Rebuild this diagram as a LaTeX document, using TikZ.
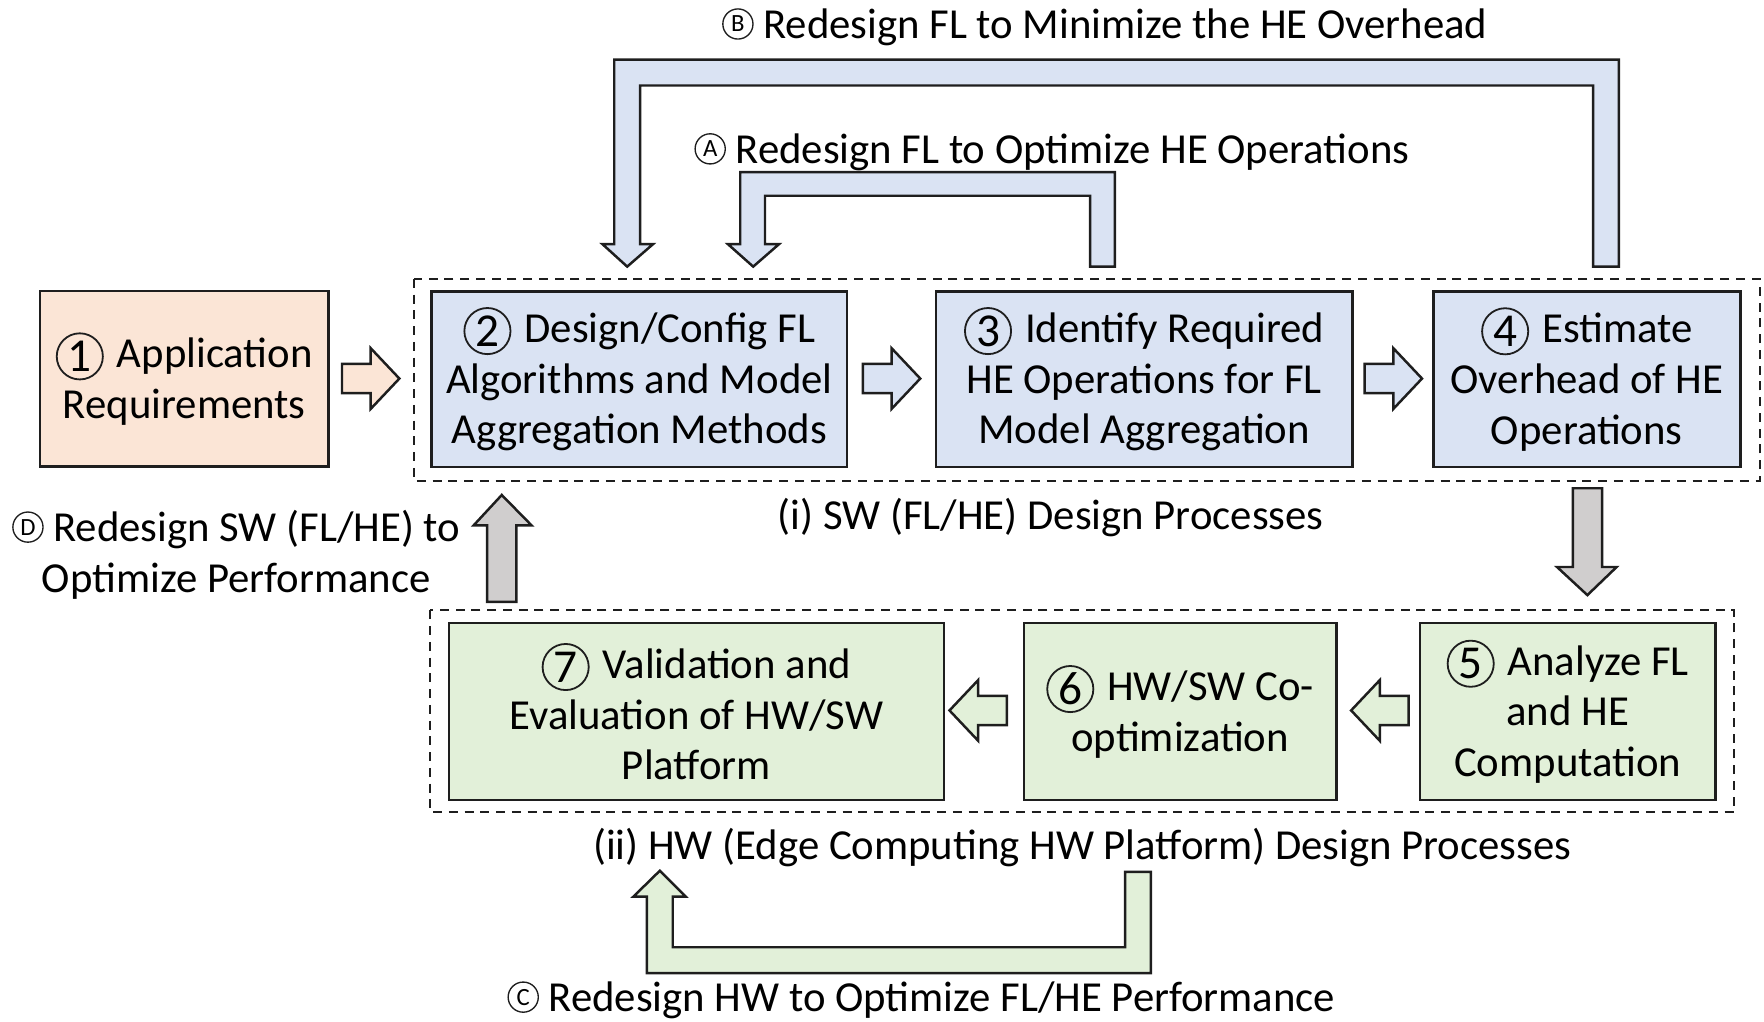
\documentclass[tikz,border=0pt]{standalone}
\usepackage{fontspec}
\setmainfont{Carlito}
\usetikzlibrary{calc}

\definecolor{linec}{HTML}{1E1E1E}
\definecolor{peach}{HTML}{FBE5D6}
\definecolor{swblue}{HTML}{DAE3F3}
\definecolor{hwgreen}{HTML}{E2F0D9}
\definecolor{arrgray}{HTML}{D0CECE}

% circled step numbers and circled loop letters, drawn as small inline pictures
\newcommand\stepno[1]{\tikz[baseline=0pt]\node[circle, draw=linec, line width=0.8pt,
  minimum size=20.5pt, inner sep=0pt, font=\fontsize{21}{21}\selectfont] (sn) at (0pt,5.1pt) {#1};\hspace{1.5pt}}
\newcommand\loopno[1]{\tikz[baseline=0pt]\node[circle, draw=linec, line width=0.6pt,
  minimum size=13.4pt, inner sep=0pt, font=\fontsize{11}{11}\selectfont] (ln) at (0pt,6.4pt) {#1};}

% short block arrow centred at (#1,#2), rotated by #3, filled with #4
\newcommand\blockarrow[4]{%
  \draw[outline, fill=#4, shift={(#1,#2)}, rotate=#3]
    (-25.5,-13) -- (0,-13) -- (0,-27) -- (25.5,0) -- (0,27) -- (0,13) -- (-25.5,13) -- cycle;}

\tikzset{
  outline/.style={draw=linec, line width=1.1pt, line join=miter},
  stepbox/.style={outline, align=center, inner sep=0pt, minimum height=78pt},
  group/.style={draw=linec, line width=0.9pt, dash pattern=on 4pt off 3pt},
  caption/.style={inner sep=0pt, align=center},
}

\begin{document}
\begin{tikzpicture}[x=0.5pt, y=-0.5pt,
  every node/.style={font=\fontsize{19}{22.5}\selectfont, text=black}]
\useasboundingbox (0,0) rectangle (1568,908);

% dashed group frames
\draw[group] (368,248) rectangle (1564,427.5);
\draw[group] (382,542.5) rectangle (1541.5,721.5);

% process steps
\node[stepbox, fill=peach, minimum width=128.2pt] (s1) at (163.8,336.8)
  {\stepno{1} Application\\Requirements};
\node[stepbox, fill=swblue, minimum width=184.7pt] (s2) at (568.3,337)
  {\stepno{2} Design/Config FL\\Algorithms and Model\\Aggregation Methods};
\node[stepbox, fill=swblue, minimum width=185pt] (s3) at (1017,337)
  {\stepno{3} Identify Required\\HE Operations for FL\\Model Aggregation};
\node[stepbox, fill=swblue, minimum width=136.5pt] (s4) at (1410.5,337)
  {\stepno{4} Estimate\\Overhead of HE\\Operations};
\node[stepbox, fill=hwgreen, minimum width=131.5pt, minimum height=78.5pt] (s5) at (1393.5,632.5)
  {\stepno{5} Analyze FL\\and HE\\Computation};
\node[stepbox, fill=hwgreen, minimum width=139pt, minimum height=78.5pt] (s6) at (1049,632.5)
  {\stepno{6} HW/SW Co-\\optimization};
\node[stepbox, fill=hwgreen, minimum width=220pt, minimum height=78.5pt] (s7) at (619,632.5)
  {\stepno{7} Validation and\\Evaluation of HW/SW\\Platform};

% forward flow arrows
\blockarrow{329.5}{336.5}{0}{peach}
\blockarrow{792.5}{336.5}{0}{swblue}
\blockarrow{1238.5}{336.5}{0}{swblue}
\blockarrow{1226.5}{631.5}{180}{hwgreen}
\blockarrow{869.5}{631.5}{180}{hwgreen}

% SW to HW and HW back to SW
\draw[outline, fill=arrgray]
  (1398,434) -- (1424,434) -- (1424,504) -- (1437,504) -- (1411,529)
  -- (1384,504) -- (1398,504) -- cycle;
\draw[outline, fill=arrgray]
  (433,535) -- (459,535) -- (459,467) -- (472.5,467) -- (446,440)
  -- (421,467) -- (433,467) -- cycle;

% loop B: overhead estimate back to FL design
\draw[outline, fill=swblue]
  (1416,237) -- (1416,76) -- (569,76) -- (569,217) -- (580.5,217)
  -- (557.5,237) -- (535.5,217) -- (546,217) -- (546,53) -- (1439,53)
  -- (1439,237) -- cycle;
% loop A: HE operations back to FL design
\draw[outline, fill=swblue]
  (969,237) -- (969,174) -- (680,174) -- (680,217) -- (692.5,217)
  -- (669.5,237) -- (647,217) -- (658,217) -- (658,153) -- (991,153)
  -- (991,237) -- cycle;
% loop C: HW redesign
\draw[outline, fill=hwgreen]
  (1000,775) -- (1000,842) -- (598,842) -- (598,797) -- (609.5,797)
  -- (586.5,774) -- (563,797) -- (575,797) -- (575,865) -- (1023,865)
  -- (1023,775) -- cycle;

% captions
\node[caption] (lb) at (982,24) {\loopno{B} Redesign FL to Minimize the HE Overhead};
\node[caption] (la) at (935,135) {\loopno{A} Redesign FL to Optimize HE Operations};
\node[caption] (gsw) at (934,460) {(i) SW (FL/HE) Design Processes};
\node[caption] (ld) at (210,493) {\loopno{D} Redesign SW (FL/HE) to\\Optimize Performance};
\node[caption] (ghw) at (962,753) {(ii) HW (Edge Computing HW Platform) Design Processes};
\node[caption] (lc) at (819,889) {\loopno{C} Redesign HW to Optimize FL/HE Performance};
\end{tikzpicture}
\end{document}
